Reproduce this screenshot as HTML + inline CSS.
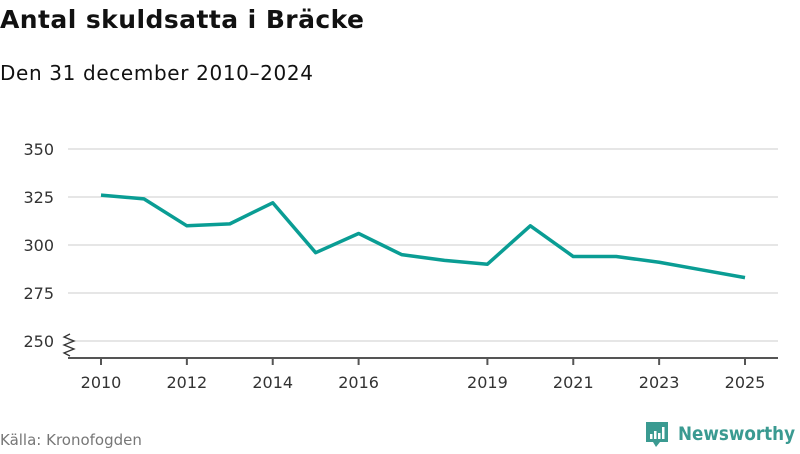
<!DOCTYPE html>
<html><head><meta charset="utf-8"><style>
body{margin:0;width:800px;height:450px;background:#fff;font-family:"DejaVu Sans","Liberation Sans",sans-serif;overflow:hidden}
</style></head><body>
<svg width="800" height="450" xmlns="http://www.w3.org/2000/svg">
<text x="0" y="28" font-size="25" font-weight="bold" fill="#111" textLength="364">Antal skuldsatta i Bräcke</text>
<text x="0" y="80" font-size="20" fill="#111" textLength="313">Den 31 december 2010–2024</text>
<g id="grid"></g><g id="xaxis"></g>
<path d="M70,334 L64,337 L74,341 L64,345 L74,349 L64,353 L70,356" fill="none" stroke="#333" stroke-width="1.3"/>
<line x1="68" y1="358" x2="778" y2="358" stroke="#555" stroke-width="2"/>
<polyline id="line" fill="none" stroke="#0a9d94" stroke-width="3.5" stroke-linejoin="round"/>
<text x="0" y="445" font-size="15" fill="#777">Källa: Kronofogden</text>
<g>
<path d="M646,422 h22 v20 h-8 l-4,5 l-3,-5 h-7 z" fill="#3a9a91"/>
<rect x="650" y="434" width="2.5" height="5" fill="#fff"/><rect x="654" y="431" width="2.5" height="8" fill="#fff"/><rect x="658" y="433" width="2.5" height="6" fill="#fff"/><rect x="662" y="427" width="2.5" height="12" fill="#fff"/>
<text x="678" y="440" font-size="19" font-weight="bold" fill="#3a9a91" textLength="117" lengthAdjust="spacingAndGlyphs">Newsworthy</text>
</g>
</svg>
<script>
const years=[2010,2011,2012,2013,2014,2015,2016,2017,2018,2019,2020,2021,2022,2023,2024,2025];
const values=[326,324,310,311,322,296,306,295,292,290,310,294,294,291,287,283];
const yTicks=[250,275,300,325,350];
const xTicks=[2010,2012,2014,2016,2019,2021,2023,2025];
const NS="http://www.w3.org/2000/svg";
const x=v=>101+(v-2010)*(745-101)/15;
const y=v=>341-(v-250)*(341-149)/100;
const grid=document.getElementById('grid');
yTicks.forEach(t=>{
 const l=document.createElementNS(NS,'line');
 l.setAttribute('x1',68);l.setAttribute('x2',778);l.setAttribute('y1',y(t));l.setAttribute('y2',y(t));
 l.setAttribute('stroke','#ddd');l.setAttribute('stroke-width','1.5');
 
 
 grid.appendChild(l);
 const tx=document.createElementNS(NS,'text');
 tx.setAttribute('x',54);tx.setAttribute('y',y(t)+6);tx.setAttribute('text-anchor','end');
 tx.setAttribute('font-size','16');tx.setAttribute('fill','#333');tx.textContent=t;
 
 
 grid.appendChild(tx);
});
const xa=document.getElementById('xaxis');
xTicks.forEach(t=>{
 const l=document.createElementNS(NS,'line');
 l.setAttribute('x1',x(t));l.setAttribute('x2',x(t));l.setAttribute('y1',358);l.setAttribute('y2',365);
 l.setAttribute('stroke','#555');l.setAttribute('stroke-width','2');
 
 
 xa.appendChild(l);
 const tx=document.createElementNS(NS,'text');
 tx.setAttribute('x',x(t));tx.setAttribute('y',388);tx.setAttribute('text-anchor','middle');
 tx.setAttribute('font-size','16');tx.setAttribute('fill','#333');tx.textContent=t;
 
 
 xa.appendChild(tx);
});
document.getElementById('line').setAttribute('points',years.map((yr,i)=>x(yr)+','+y(values[i])).join(' '));
</script>
</body></html>
